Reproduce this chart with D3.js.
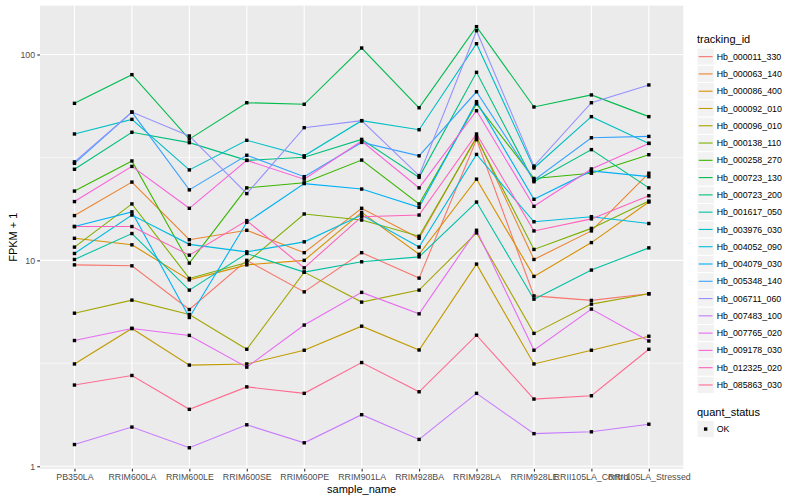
<!DOCTYPE html>
<html><head><meta charset="utf-8">
<script src="https://cdn.jsdelivr.net/npm/d3@7"></script>
<style>
body{margin:0;background:#fff;}
text{font-family:"Liberation Sans",Arial,Helvetica,sans-serif;}
</style>
</head><body>
<svg id="chart" width="800" height="500"></svg>
<script>
// ---------- data (FPKM + 1) ----------
const sampleNames = ["PB350LA","RRIM600LA","RRIM600LE","RRIM600SE","RRIM600PE","RRIM901LA","RRIM928BA","RRIM928LA","RRIM928LE","RRII105LA_Control","RRII105LA_Stressed"];
const trackingIds = ["Hb_000011_330","Hb_000063_140","Hb_000086_400","Hb_000092_010","Hb_000096_010","Hb_000138_110","Hb_000258_270","Hb_000723_130","Hb_000723_200","Hb_001617_050","Hb_003976_030","Hb_004052_090","Hb_004079_030","Hb_005348_140","Hb_006711_060","Hb_007483_100","Hb_007765_020","Hb_009178_030","Hb_012325_020","Hb_085863_030"];

const hb_000011_330 = [9.51, 9.41, 5.77, 10.0, 7.03, 10.9, 8.20, 38.6, 6.72, 6.39, 6.88];
const hb_000063_140 = [16.5, 24.0, 12.6, 14.0, 10.9, 17.9, 12.8, 39.9, 10.1, 13.9, 26.5];
const hb_000086_400 = [12.8, 11.9, 8.04, 9.51, 10.0, 17.1, 10.7, 24.8, 8.36, 12.2, 19.2];
const hb_000092_010 = [3.14, 4.67, 3.10, 3.14, 3.66, 4.79, 3.67, 9.59, 3.14, 3.66, 4.28];
const hb_000096_010 = [5.54, 6.41, 5.46, 3.70, 8.77, 6.27, 7.17, 13.6, 4.42, 6.13, 6.88];
const hb_000138_110 = [11.6, 18.8, 8.17, 9.77, 16.8, 15.7, 13.1, 39.3, 11.3, 14.3, 19.4];
const hb_000258_270 = [21.7, 30.4, 9.70, 22.5, 23.8, 30.7, 18.8, 57.6, 25.0, 26.5, 32.6];
const hb_000723_130 = [57.9, 79.8, 38.8, 58.3, 57.3, 107.5, 55.1, 136.5, 55.6, 63.6, 49.9];
const hb_000723_200 = [27.7, 41.9, 37.3, 30.6, 31.7, 38.7, 25.3, 81.9, 24.1, 34.5, 22.5];
const hb_001617_050 = [10.1, 13.5, 7.17, 10.8, 8.77, 9.84, 10.4, 19.2, 6.48, 8.97, 11.5];
const hb_003976_030 = [41.1, 48.4, 27.5, 38.3, 32.2, 47.7, 43.1, 112.8, 28.1, 49.9, 37.0];
const hb_004052_090 = [10.8, 16.6, 11.96, 11.0, 12.3, 16.6, 11.6, 32.7, 15.4, 16.3, 15.1];
const hb_004079_030 = [14.6, 17.2, 5.28, 15.3, 23.6, 22.2, 18.1, 59.0, 19.8, 27.2, 25.5];
const hb_005348_140 = [29.6, 52.5, 22.0, 32.4, 25.5, 37.4, 32.2, 65.9, 24.5, 39.4, 40.0];
const hb_006711_060 = [30.1, 52.5, 40.2, 21.1, 44.1, 47.7, 25.8, 130.5, 28.7, 58.3, 71.1];
const hb_007483_100 = [1.275, 1.55, 1.23, 1.59, 1.30, 1.78, 1.35, 2.26, 1.44, 1.47, 1.60];
const hb_007765_020 = [4.08, 4.67, 4.32, 3.03, 4.85, 6.99, 5.50, 14.0, 3.66, 5.80, 4.06];
const hb_009178_030 = [19.3, 28.6, 17.9, 30.6, 24.8, 38.0, 22.5, 53.3, 18.3, 27.8, 37.0];
const hb_012325_020 = [14.6, 14.6, 10.6, 15.6, 9.20, 16.3, 16.6, 41.1, 13.9, 15.9, 20.6];
const hb_085863_030 = [2.48, 2.76, 1.89, 2.43, 2.26, 3.19, 2.30, 4.33, 2.12, 2.20, 3.70];

const yTickValues = [1, 10, 100];
const yMinorValues = [3.1623, 31.623];
const quantStatus = ["OK"];

// palette (ggplot hue palette, 20 levels)
const palette = ["#F8766D","#EA8331","#D89000","#C09B00","#A3A500","#7CAE00","#39B600","#00BB4E","#00BF7D","#00C1A3","#00BFC4","#00BAE0","#00B0F6","#35A2FF","#9590FF","#C77CFF","#E76BF3","#FA62DB","#FF62BC","#FF6C91"];

const seriesValues = [hb_000011_330,hb_000063_140,hb_000086_400,hb_000092_010,hb_000096_010,hb_000138_110,hb_000258_270,hb_000723_130,hb_000723_200,hb_001617_050,hb_003976_030,hb_004052_090,hb_004079_030,hb_005348_140,hb_006711_060,hb_007483_100,hb_007765_020,hb_009178_030,hb_012325_020,hb_085863_030];
const series = trackingIds.map((id, i) => ({
  id, color: palette[i],
  points: sampleNames.map((s, j) => ({sample: s, value: seriesValues[i][j]}))
}));

// ---------- layout ----------
const svg = d3.select("#chart");
const P = {left: 40, right: 683.3, top: 5.6, bottom: 468.8};

const allVals = seriesValues.flat();
const lmin = Math.log10(d3.min(allVals)), lmax = Math.log10(d3.max(allVals));
const pad = (lmax - lmin) * 0.05;
const y = d3.scaleLog().domain([Math.pow(10, lmin - pad), Math.pow(10, lmax + pad)]).range([P.bottom, P.top]);
const x = d3.scalePoint().domain(sampleNames).range([P.left, P.right]).padding(0.6);

// panel background
svg.append("rect").attr("x", P.left).attr("y", P.top)
  .attr("width", P.right - P.left).attr("height", P.bottom - P.top).attr("fill", "#EBEBEB");

const grid = svg.append("g");
grid.selectAll(".minor").data(yMinorValues).join("line")
  .attr("x1", P.left).attr("x2", P.right)
  .attr("y1", d => y(d)).attr("y2", d => y(d))
  .attr("stroke", "#fff").attr("stroke-width", 0.55);
grid.selectAll(".majory").data(yTickValues).join("line")
  .attr("x1", P.left).attr("x2", P.right)
  .attr("y1", d => y(d)).attr("y2", d => y(d))
  .attr("stroke", "#fff").attr("stroke-width", 1.1);
grid.selectAll(".majorx").data(sampleNames).join("line")
  .attr("x1", d => x(d)).attr("x2", d => x(d))
  .attr("y1", P.top).attr("y2", P.bottom)
  .attr("stroke", "#fff").attr("stroke-width", 1.1);

// lines
const line = d3.line().x(d => x(d.sample)).y(d => y(d.value));
svg.append("g").selectAll("path").data(series).join("path")
  .attr("d", d => line(d.points))
  .attr("fill", "none").attr("stroke", d => d.color).attr("stroke-width", 1.1);

// points
const pts = series.flatMap(s => s.points);
svg.append("g").selectAll("rect").data(pts).join("rect")
  .attr("x", d => x(d.sample) - 1.7).attr("y", d => y(d.value) - 1.7)
  .attr("width", 3.4).attr("height", 3.4).attr("fill", "#000");

// axes
const xAxis = svg.append("g").attr("transform", `translate(0,${P.bottom})`)
  .call(d3.axisBottom(x).tickSize(2.75).tickPadding(2.2));
const yAxis = svg.append("g").attr("transform", `translate(${P.left},0)`)
  .call(d3.axisLeft(y).tickValues(yTickValues).tickFormat(d3.format("d")).tickSize(2.75).tickPadding(2.2));
[xAxis, yAxis].forEach(g => {
  g.select(".domain").remove();
  g.selectAll(".tick line").attr("stroke", "#333333").attr("stroke-width", 1.1);
  g.selectAll(".tick text").attr("fill", "#4D4D4D").style("font-size", "8.8px")
    .style("font-family", '"Liberation Sans",Arial,sans-serif');
});

// axis titles
svg.append("text").attr("x", (P.left + P.right) / 2).attr("y", 493)
  .attr("text-anchor", "middle").style("font-size", "11px").attr("fill", "#000").text("sample_name");
svg.append("text").attr("transform", `translate(16.5,${(P.top + P.bottom) / 2}) rotate(-90)`)
  .attr("text-anchor", "middle").style("font-size", "11px").attr("fill", "#000").text("FPKM + 1");

// legend: tracking_id
const L = {x: 697, key: 17.28, firstY: 48};
const leg = svg.append("g");
leg.append("text").attr("x", L.x).attr("y", 43).style("font-size", "11px").attr("fill", "#000").text("tracking_id");
const items = leg.selectAll(".item").data(series).join("g")
  .attr("transform", (d, i) => `translate(${L.x},${L.firstY + i * L.key})`);
items.append("rect").attr("width", L.key).attr("height", L.key)
  .attr("fill", "#F2F2F2").attr("stroke", "#fff").attr("stroke-width", 1);
items.append("line").attr("x1", 1.7).attr("x2", L.key - 1.7)
  .attr("y1", L.key / 2).attr("y2", L.key / 2)
  .attr("stroke", d => d.color).attr("stroke-width", 1.1);
items.append("text").attr("x", L.key + 2.5).attr("y", L.key / 2).attr("dy", "0.35em")
  .style("font-size", "8.8px").attr("fill", "#000").text(d => d.id);

// legend: quant_status
const q = svg.append("g");
q.append("text").attr("x", L.x).attr("y", 416).style("font-size", "11px").attr("fill", "#000").text("quant_status");
const qi = q.selectAll(".q").data(quantStatus).join("g").attr("transform", `translate(${L.x},420.4)`);
qi.append("rect").attr("width", L.key).attr("height", L.key).attr("fill", "#F2F2F2").attr("stroke", "#fff");
qi.append("rect").attr("x", L.key / 2 - 1.7).attr("y", L.key / 2 - 1.7).attr("width", 3.4).attr("height", 3.4).attr("fill", "#000");
qi.append("text").attr("x", L.key + 2.5).attr("y", L.key / 2).attr("dy", "0.35em")
  .style("font-size", "8.8px").attr("fill", "#000").text(d => d);
</script>
</body></html>
